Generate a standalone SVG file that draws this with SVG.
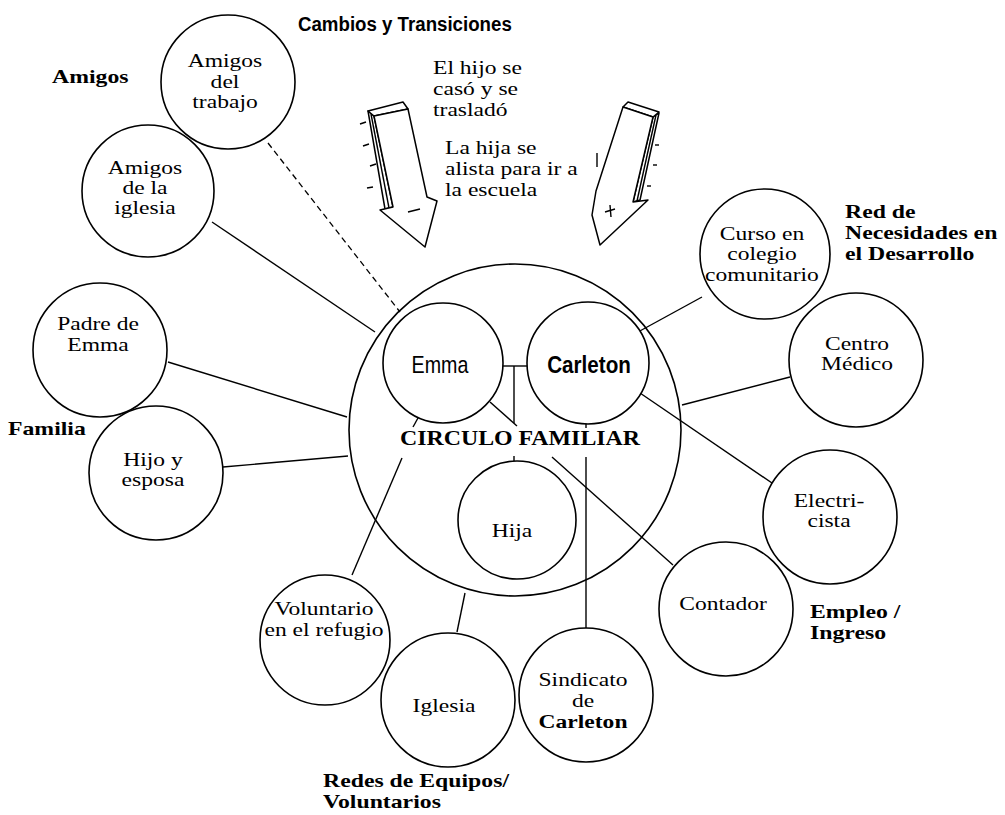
<svg xmlns="http://www.w3.org/2000/svg" width="1005" height="815" viewBox="0 0 1005 815">
<style>
.c{fill:#fff;stroke:#000;stroke-width:1.6}
.big{fill:none;stroke:#000;stroke-width:1.6}
.l{fill:none;stroke:#000;stroke-width:1.4}
.d{fill:none;stroke:#000;stroke-width:1.3;stroke-dasharray:6 4}
.ar{fill:#fff;stroke:#000;stroke-width:1.5;stroke-linejoin:round}
.mk{fill:none;stroke:#000;stroke-width:1.4}
.t{font-family:"Liberation Serif","Times New Roman",serif;font-size:19px;fill:#000;text-anchor:middle}
.ts{font-family:"Liberation Serif","Times New Roman",serif;font-size:19px;fill:#000}
.b{font-family:"Liberation Serif","Times New Roman",serif;font-size:19px;font-weight:bold;fill:#000}
.sans{font-family:"Liberation Sans",Arial,sans-serif;font-size:24px;fill:#000;text-anchor:middle}
</style>
<rect width="1005" height="815" fill="#fff"/>

<g id="connectors">
<line class="d" x1="268" y1="143" x2="400" y2="312"/>
<line class="l" x1="212" y1="222" x2="375" y2="332"/>
<line class="l" x1="168" y1="362" x2="347" y2="417"/>
<line class="l" x1="223" y1="467" x2="348" y2="456"/>
<line class="l" x1="418" y1="418" x2="413" y2="427"/>
<line class="l" x1="402" y1="458" x2="352" y2="575"/>
<line class="l" x1="457" y1="632" x2="465" y2="593"/>
<line class="l" x1="586" y1="423" x2="586" y2="428"/>
<line class="l" x1="586" y1="457" x2="586" y2="628"/>
<line class="l" x1="490" y1="402" x2="517" y2="426"/>
<line class="l" x1="552" y1="457" x2="673" y2="565"/>
<line class="l" x1="640" y1="393" x2="772" y2="483"/>
<line class="l" x1="682" y1="405" x2="790" y2="377"/>
<line class="l" x1="638" y1="332" x2="702" y2="297"/>
<line class="l" x1="503" y1="366" x2="527" y2="366"/>
<line class="l" x1="514" y1="366" x2="514" y2="423" stroke-width="1.1"/>
<line class="l" x1="514" y1="456" x2="514" y2="461" stroke-width="1.1"/>
</g>

<g id="circulo-familiar">
<circle class="big" cx="515" cy="430" r="166"/>
<text class="b" transform="translate(520,0) scale(1.085,1)" text-anchor="middle" y="445" style="font-size:22px">CIRCULO FAMILIAR</text>
</g>

<g id="emma">
<circle class="c" cx="443" cy="363" r="60"/>
<text class="sans" transform="translate(440,0) scale(0.82,1)" x="0" y="373">Emma</text>
</g>
<g id="carleton">
<circle class="c" cx="588" cy="363" r="61"/>
<text class="sans" font-weight="bold" transform="translate(589,0) scale(0.86,1)" x="0" y="373">Carleton</text>
</g>
<g id="hija">
<circle class="c" cx="517" cy="520" r="59"/>
<text class="t" transform="translate(512,0) scale(1.24,1)" x="0" y="537">Hija</text>
</g>

<g id="amigos-trabajo">
<circle class="c" cx="228" cy="82" r="67"/>
<text class="t" transform="translate(225,0) scale(1.24,1)"><tspan x="0" y="67">Amigos</tspan><tspan x="0" y="88">del</tspan><tspan x="0" y="108">trabajo</tspan></text>
</g>
<g id="amigos-iglesia">
<circle class="c" cx="148" cy="191" r="66"/>
<text class="t" transform="translate(145,0) scale(1.24,1)"><tspan x="0" y="174">Amigos</tspan><tspan x="0" y="194">de la</tspan><tspan x="0" y="214">iglesia</tspan></text>
</g>
<g id="padre-emma">
<circle class="c" cx="100" cy="350" r="67"/>
<text class="t" transform="translate(98,0) scale(1.24,1)"><tspan x="0" y="330">Padre de</tspan><tspan x="0" y="351">Emma</tspan></text>
</g>
<g id="hijo-esposa">
<circle class="c" cx="156" cy="473" r="67"/>
<text class="t" transform="translate(153,0) scale(1.24,1)"><tspan x="0" y="466">Hijo y</tspan><tspan x="0" y="486">esposa</tspan></text>
</g>
<g id="voluntario">
<circle class="c" cx="325" cy="640" r="65"/>
<text class="t" transform="translate(324,0) scale(1.24,1)"><tspan x="0" y="615">Voluntario</tspan><tspan x="0" y="636">en el refugio</tspan></text>
</g>
<g id="iglesia">
<circle class="c" cx="448" cy="700" r="67"/>
<text class="t" transform="translate(444,0) scale(1.24,1)" x="0" y="712">Iglesia</text>
</g>
<g id="sindicato">
<circle class="c" cx="586" cy="695" r="67"/>
<text class="t" transform="translate(583,0) scale(1.24,1)"><tspan x="0" y="686">Sindicato</tspan><tspan x="0" y="707">de</tspan><tspan x="0" y="728" font-weight="bold">Carleton</tspan></text>
</g>
<g id="contador">
<circle class="c" cx="726" cy="609" r="67"/>
<text class="t" transform="translate(723,0) scale(1.24,1)" x="0" y="610">Contador</text>
</g>
<g id="electricista">
<circle class="c" cx="830" cy="517" r="67"/>
<text class="t" transform="translate(829,0) scale(1.24,1)"><tspan x="0" y="507">Electri-</tspan><tspan x="0" y="527">cista</tspan></text>
</g>
<g id="centro-medico">
<circle class="c" cx="856" cy="360" r="67"/>
<text class="t" transform="translate(857,0) scale(1.24,1)"><tspan x="0" y="350">Centro</tspan><tspan x="0" y="370">Médico</tspan></text>
</g>
<g id="curso-colegio">
<circle class="c" cx="765" cy="254" r="65"/>
<text class="t" transform="translate(762,0) scale(1.24,1)"><tspan x="0" y="240">Curso en</tspan><tspan x="0" y="260">colegio</tspan><tspan x="0" y="281">comunitario</tspan></text>
</g>

<g id="arrow-minus">
<polygon class="ar" points="368,111 374,116 393,207 385,209"/>
<line class="mk" x1="371" y1="114" x2="389" y2="208"/>
<polygon class="ar" points="368,111 403,102 408,109 374,116"/>
<polygon class="ar" points="374,116 408,109 427,197 437,201 425,247 380,210 393,207"/>
<line class="mk" x1="360" y1="124" x2="366" y2="122"/>
<line class="mk" x1="363" y1="146" x2="369" y2="144"/>
<line class="mk" x1="370" y1="166" x2="376" y2="164"/>
<line class="mk" x1="367" y1="188" x2="373" y2="187"/>
<line class="mk" x1="408" y1="212" x2="420" y2="209"/>
</g>
<g id="arrow-plus">
<polygon class="ar" points="653,117 659,113 640,200 633,202"/>
<line class="mk" x1="656" y1="115" x2="637" y2="201"/>
<polygon class="ar" points="623,107 628,102 659,112 653,117"/>
<polygon class="ar" points="623,107 653,117 633,202 648,200 600,245 592,215 596,191"/>
<line class="mk" x1="597" y1="153" x2="597" y2="167"/>
<line class="mk" x1="605" y1="212" x2="615" y2="209"/>
<line class="mk" x1="610" y1="205" x2="611" y2="217"/>
<line class="mk" x1="655" y1="145" x2="659" y2="145"/>
<line class="mk" x1="653" y1="165" x2="657" y2="165"/>
<line class="mk" x1="647" y1="186" x2="651" y2="186"/>
</g>

<g id="labels">
<text font-family="'Liberation Sans',Arial,sans-serif" font-weight="bold" font-size="21" transform="translate(298,0) scale(0.89,1)" x="0" y="31">Cambios y Transiciones</text>
<text class="ts" transform="translate(433,0) scale(1.24,1)"><tspan x="0" y="74">El hijo se</tspan><tspan x="0" y="95">casó y se</tspan><tspan x="0" y="116">trasladó</tspan></text>
<text class="ts" transform="translate(445,0) scale(1.24,1)"><tspan x="0" y="154">La hija se</tspan><tspan x="0" y="175">alista para ir a</tspan><tspan x="0" y="196">la escuela</tspan></text>
<text class="b" transform="translate(52,0) scale(1.25,1)" x="0" y="83">Amigos</text>
<text class="b" transform="translate(8,0) scale(1.25,1)" x="0" y="435">Familia</text>
<text class="b" transform="translate(845,0) scale(1.25,1)"><tspan x="0" y="218">Red de</tspan><tspan x="0" y="239">Necesidades en</tspan><tspan x="0" y="260">el Desarrollo</tspan></text>
<text class="b" transform="translate(810,0) scale(1.25,1)"><tspan x="0" y="618">Empleo /</tspan><tspan x="0" y="639">Ingreso</tspan></text>
<text class="b" transform="translate(323,0) scale(1.25,1)"><tspan x="0" y="787">Redes de Equipos/</tspan><tspan x="0" y="808">Voluntarios</tspan></text>
</g>
</svg>
